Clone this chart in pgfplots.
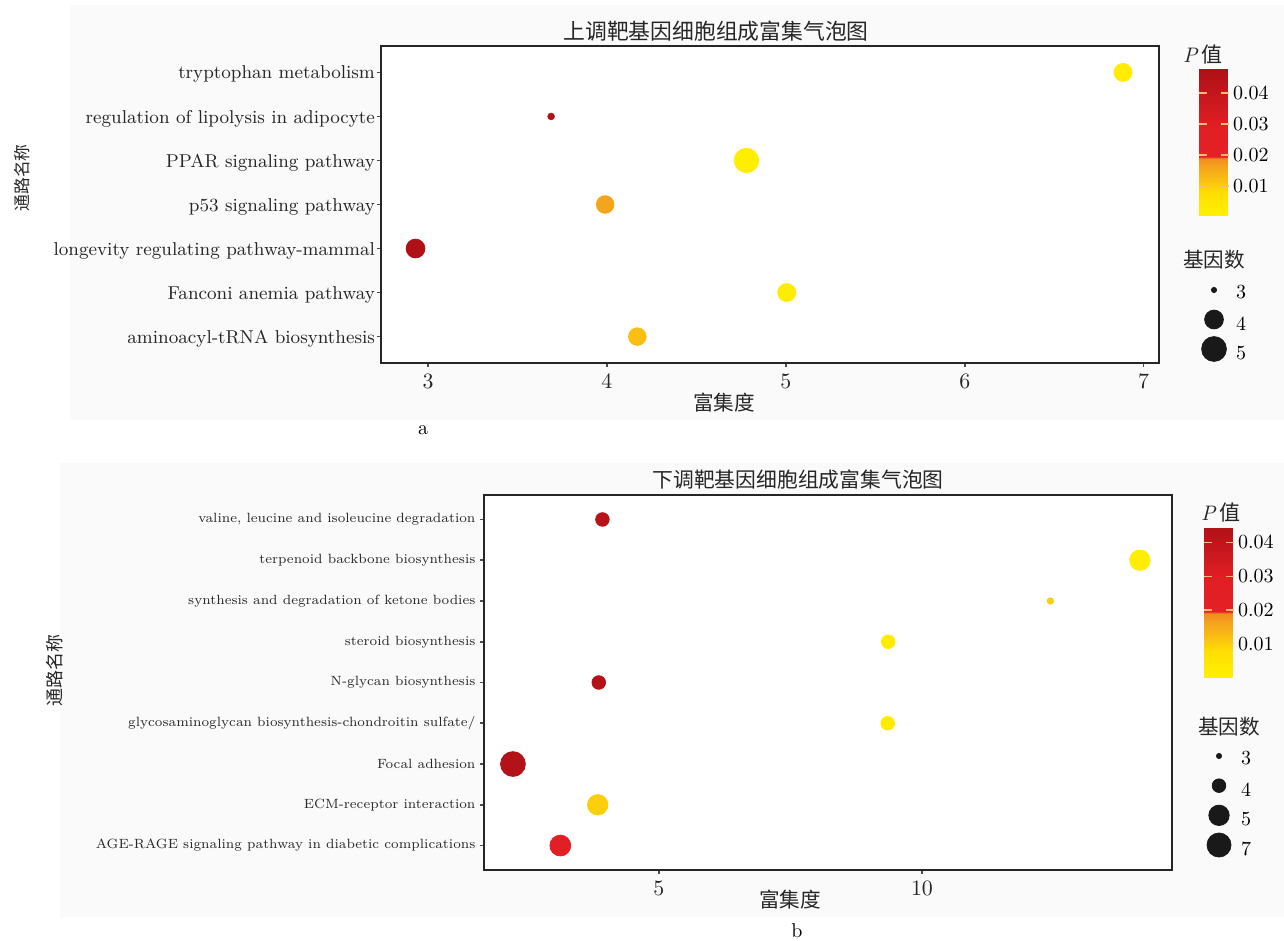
\documentclass[border=0pt]{standalone}
\usepackage{fontspec}
\usepackage{pgfplots}
\usepackage{pgfplotstable}
\pgfplotsset{compat=1.18}
\newfontfamily\cjk{Noto Sans CJK SC}

\pgfplotsset{
  colormap={topmap}{rgb255(0)=(255,240,0); rgb255(160)=(254,222,4); rgb255(245)=(251,190,18); rgb255(330)=(245,165,28); rgb255(390)=(241,140,32); rgb255(400)=(229,33,37); rgb255(620)=(224,30,36); rgb255(1000)=(172,16,22)},
  colormap={botmap}{rgb255(0)=(255,240,0); rgb255(178)=(254,222,4); rgb255(267)=(251,190,18); rgb255(357)=(245,165,28); rgb255(425)=(241,140,32); rgb255(436)=(229,33,37); rgb255(672)=(224,30,36); rgb255(1000)=(176,17,23)},
  bubble/.style={scatter, only marks, mark=*, point meta=explicit,
    scatter/use mapped color={draw=mapped color, fill=mapped color},
    visualization depends on={\thisrow{r}\as\rad},
    scatter/@pre marker code/.append style={/tikz/mark size=\rad}},
  mycb/.style={axis line style={draw=none}, ytick={0.01,0.02,0.03,0.04}, scaled y ticks=false,
    ytick pos=both, yticklabel pos=right, tick align=inside, major tick length=4pt,
    tick style={color=orange!55!white, line width=0.7pt},
    yticklabel style={font=\fontsize{10}{12}\selectfont, xshift=-1.5pt,
      /pgf/number format/.cd, fixed, precision=2, fixed zerofill}},
}

\pgfplotstableread{
x y n r p
6.885 7 4 4.5 0.002
3.688 6 3 1.65 0.046
4.78 5 5 6.1 0.001
3.99 4 4 4.4 0.016
2.93 3 4 4.7 0.047
5.005 2 4 4.5 0.002
4.17 1 4 4.4 0.012
}\topdata

\pgfplotstableread{
x y n r p
3.93 9 4 3.4 0.042
14.14 8 5 5.1 0.001
12.44 7 3 1.6 0.010
9.36 6 4 3.4 0.002
3.86 5 4 3.4 0.043
9.35 4 4 3.4 0.002
2.23 3 7 6.2 0.044
3.84 2 5 5.1 0.010
3.13 1 5 5.2 0.026
}\botdata

\begin{document}
\begin{tikzpicture}
\useasboundingbox (0,0) rectangle (642pt,-470.5pt);
\fill[black!2] (35pt,-2.5pt) rectangle (642pt,-210pt);
\fill[black!2] (30pt,-231.5pt) rectangle (642pt,-458.5pt);

% ---------- top chart ----------
\begin{axis}[at={(190.5pt,-23pt)}, anchor=north west, scale only axis,
  width=389pt, height=158.5pt,
  xmin=2.737, xmax=7.086, ymin=0.4, ymax=7.6,
  xtick={3,4,5,6,7}, ytick={1,...,7},
  yticklabels={aminoacyl-tRNA biosynthesis, Fanconi anemia pathway, longevity regulating pathway-mammal, p53 signaling pathway, PPAR signaling pathway, regulation of lipolysis in adipocyte, tryptophan metabolism},
  tick pos=left, tick align=outside, major tick length=2pt,
  tick style={black!70, line width=0.8pt},
  axis line style={line width=1.4pt, black!85},
  axis background/.style={fill=white},
  yticklabel style={font=\fontsize{9.3}{11}\selectfont, text=black!85, xshift=2.5pt, yshift=-1pt},
  xticklabel style={font=\fontsize{11}{12}\selectfont, text=black!85},
  colormap name=topmap, point meta min=0.0003, point meta max=0.048,
  colorbar,
  colorbar style={at={(parent axis.north east)}, anchor=north west,
    xshift=11.5pt, yshift=-11pt, width=15pt, height=74pt, mycb},
  clip=false]
\addplot[bubble] table[x=x, y=y, meta=p] {\topdata};
\end{axis}

% ---------- bottom chart ----------
\begin{axis}[at={(242pt,-247.5pt)}, anchor=north west, scale only axis,
  width=344pt, height=187.5pt,
  xmin=1.68, xmax=14.75, ymin=0.4, ymax=9.6,
  xtick={5,10}, ytick={1,...,9},
  yticklabels={AGE-RAGE signaling pathway in diabetic complications, ECM-receptor interaction, Focal adhesion, glycosaminoglycan biosynthesis-chondroitin sulfate/, N-glycan biosynthesis, steroid biosynthesis, synthesis and degradation of ketone bodies, terpenoid backbone biosynthesis, {valine, leucine and isoleucine degradation}},
  tick pos=left, tick align=outside, major tick length=2pt,
  tick style={black!70, line width=0.8pt},
  axis line style={line width=1.4pt, black!85},
  axis background/.style={fill=white},
  yticklabel style={font=\fontsize{7.2}{9}\selectfont, text=black!85, xshift=1pt, scale=0.93},
  xticklabel style={font=\fontsize{11}{12}\selectfont, text=black!85},
  colormap name=botmap, point meta min=0.0001, point meta max=0.0446,
  colorbar,
  colorbar style={at={(parent axis.north east)}, anchor=north west,
    xshift=7.5pt, yshift=-16pt, width=15pt, height=75pt, mycb},
  clip=false]
\addplot[bubble] table[x=x, y=y, meta=p] {\botdata};
\end{axis}

% ---------- size legends ----------
\begin{axis}[at={(607pt,-145pt)}, anchor=north west, scale only axis, hide axis,
  width=10pt, height=29.5pt, xmin=0, xmax=1, ymin=3, ymax=5, y dir=reverse, clip=false]
\addplot[only marks, mark=*, mark size=1.3pt, black!90] coordinates {(0,3)};
\addplot[only marks, mark=*, mark size=4.7pt, black!90] coordinates {(0,4)};
\addplot[only marks, mark=*, mark size=6.2pt, black!90] coordinates {(0,5)};
\node[anchor=west, font=\fontsize{10}{12}\selectfont] at (axis cs:0,3) [xshift=7.5pt, yshift=-1pt] {3};
\node[anchor=west, font=\fontsize{10}{12}\selectfont] at (axis cs:0,4) [xshift=7.5pt, yshift=-2pt] {4};
\node[anchor=west, font=\fontsize{10}{12}\selectfont] at (axis cs:0,5) [xshift=7.5pt, yshift=-2pt] {5};
\end{axis}

\begin{axis}[at={(609.5pt,-378pt)}, anchor=north west, scale only axis, hide axis,
  width=10pt, height=44.5pt, xmin=0, xmax=1, ymin=1, ymax=4, y dir=reverse, clip=false]
\addplot[only marks, mark=*, mark size=1.3pt, black!90] coordinates {(0,1)};
\addplot[only marks, mark=*, mark size=3.4pt, black!90] coordinates {(0,2)};
\addplot[only marks, mark=*, mark size=5.1pt, black!90] coordinates {(0,3)};
\addplot[only marks, mark=*, mark size=6.0pt, black!90] coordinates {(0,4)};
\node[anchor=west, font=\fontsize{10}{12}\selectfont] at (axis cs:0,1) [xshift=7.5pt, yshift=-1pt] {3};
\node[anchor=west, font=\fontsize{10}{12}\selectfont] at (axis cs:0,2) [xshift=7.5pt, yshift=-2pt] {4};
\node[anchor=west, font=\fontsize{10}{12}\selectfont] at (axis cs:0,3) [xshift=7.5pt, yshift=-2pt] {5};
\node[anchor=west, font=\fontsize{10}{12}\selectfont] at (axis cs:0,4) [xshift=7.5pt, yshift=-2pt] {7};
\end{axis}

% ---------- texts ----------
\node[font=\cjk\fontsize{10.9}{12}\selectfont, text=black!85] at (358pt,-15.5pt) {上调靶基因细胞组成富集气泡图};
\node[font=\cjk\fontsize{10.4}{12}\selectfont, text=black!85] at (399pt,-240pt) {下调靶基因细胞组成富集气泡图};
\node[font=\cjk\fontsize{10.3}{12}\selectfont, text=black!85] at (362pt,-201.5pt) {富集度};
\node[font=\cjk\fontsize{10.3}{12}\selectfont, text=black!85] at (395pt,-450pt) {富集度};
\node[font=\cjk\fontsize{8.4}{10}\selectfont, text=black!85, rotate=90] at (11pt,-89pt) {通路名称};
\node[font=\cjk\fontsize{9}{10}\selectfont, text=black!85, rotate=90] at (27.5pt,-335pt) {通路名称};
\node[font=\fontsize{10}{12}\selectfont] at (211.5pt,-215pt) {a};
\node[font=\fontsize{10}{12}\selectfont] at (398.5pt,-465.5pt) {b};
\node[font=\fontsize{10.5}{12}\selectfont, text=black!85] at (601.5pt,-27.5pt) {\textit{P}\,{\cjk 值}};
\node[font=\fontsize{10.5}{12}\selectfont, text=black!85] at (610.5pt,-256.5pt) {\textit{P}\,{\cjk 值}};
\node[font=\cjk\fontsize{10.3}{12}\selectfont, text=black!85] at (607pt,-130pt) {基因数};
\node[font=\cjk\fontsize{10.3}{12}\selectfont, text=black!85] at (614.5pt,-363.5pt) {基因数};
\end{tikzpicture}
\end{document}
